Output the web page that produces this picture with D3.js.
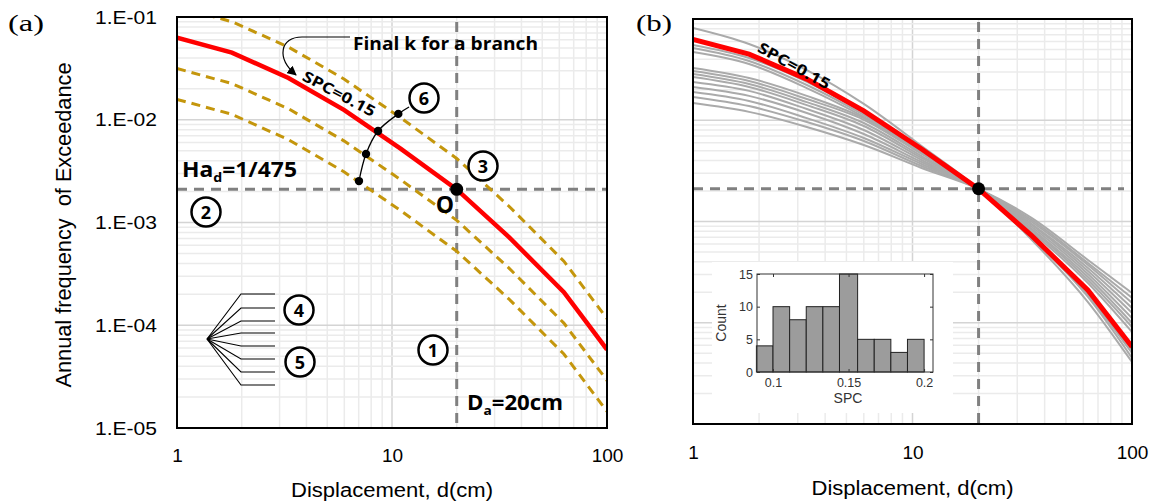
<!DOCTYPE html>
<html>
<head>
<meta charset="utf-8">
<script src="https://cdn.jsdelivr.net/npm/d3@7"></script>
<style>
  body { margin: 0; background: #fff; }
  svg { display: block; }
</style>
</head>
<body>
<svg id="chart" width="1155" height="504"></svg>
<script>
// displacement grid of the hazard curves (cm)
const dispCm = [1, 1.8, 3.3, 6, 11, 20, 35, 63, 100];
// selected curve, SPC = 0.15
const spc015 = [6.3e-2, 4.5e-2, 2.55e-2, 1.24e-2, 5.2e-3, 2.1e-3, 7.2e-4, 2.1e-4, 5.8e-5];
// trial k curves of panel (a)
const kUpper = [0.126, 0.09, 0.051, 0.0248, 0.0104, 0.0042, 0.00144, 0.00042, 0.000116];
const kMid = [0.0315, 0.0225, 0.0128, 0.0062, 0.0026, 0.00105, 0.00036, 0.000105, 0.000029];
const kLow = [0.0158, 0.0113, 0.0064, 0.0031, 0.0013, 0.000525, 0.00018, 0.0000525, 0.0000145];
// iteration path for k
const kPathD = [7.02, 7.57, 8.61, 10.7, 12.0];
const kPathF = [2.53e-3, 4.65e-3, 7.77e-3, 1.14e-2, 1.33e-2];
// branch curves of panel (b)
const branchCurves = [
  [8.15e-2, 5.66e-2, 3.13e-2, 1.45e-2, 5.57e-3, 2.1e-3, 6.57e-4, 1.60e-4, 4.09e-5],
  [5.54e-2, 4.12e-2, 2.39e-2, 1.18e-2, 5.08e-3, 2.1e-3, 6.87e-4, 1.80e-4, 4.49e-5],
  [5.17e-2, 3.85e-2, 2.23e-2, 1.13e-2, 4.97e-3, 2.1e-3, 7.03e-4, 1.88e-4, 5.02e-5],
  [4.72e-2, 3.59e-2, 2.08e-2, 1.08e-2, 4.86e-3, 2.1e-3, 7.19e-4, 1.97e-4, 5.38e-5],
  [3.28e-2, 2.61e-2, 1.74e-2, 1.05e-2, 4.75e-3, 2.1e-3, 7.87e-4, 2.47e-4, 8.10e-5],
  [3.06e-2, 2.44e-2, 1.62e-2, 1.01e-2, 4.64e-3, 2.1e-3, 8.24e-4, 2.64e-4, 9.08e-5],
  [2.86e-2, 2.28e-2, 1.51e-2, 9.39e-3, 4.43e-3, 2.1e-3, 8.43e-4, 2.83e-4, 9.94e-5],
  [2.67e-2, 2.13e-2, 1.41e-2, 8.77e-3, 4.24e-3, 2.1e-3, 8.82e-4, 3.03e-4, 1.11e-4],
  [2.39e-2, 1.95e-2, 1.29e-2, 8.01e-3, 4.05e-3, 2.1e-3, 9.23e-4, 3.24e-4, 1.25e-4],
  [2.13e-2, 1.74e-2, 1.18e-2, 7.31e-3, 3.87e-3, 2.1e-3, 9.45e-4, 3.47e-4, 1.40e-4],
  [1.90e-2, 1.55e-2, 1.05e-2, 6.68e-3, 3.70e-3, 2.1e-3, 9.89e-4, 3.72e-4, 1.57e-4],
  [1.70e-2, 1.38e-2, 9.61e-3, 6.24e-3, 3.53e-3, 2.1e-3, 1.03e-3, 3.89e-4, 1.76e-4],
  [1.48e-2, 1.21e-2, 8.58e-3, 5.69e-3, 3.38e-3, 2.1e-3, 1.08e-3, 4.17e-4, 1.97e-4]
];
const targetD = 20;
const targetHa = 1 / 475;
// SPC histogram (inset)
const spcBins = [0.089, 0.100, 0.111, 0.122, 0.133, 0.144, 0.156, 0.167, 0.178, 0.189, 0.200];
const spcCounts = [4, 10, 8, 10, 10, 15, 5, 5, 3, 5];
const countTicks = [0, 5, 10, 15];
const spcTicks = [0.1, 0.15, 0.2];
const yTicks = [1e-1, 1e-2, 1e-3, 1e-4, 1e-5];
const yTickLabels = ['1.E-01', '1.E-02', '1.E-03', '1.E-04', '1.E-05'];
const xTicks = [1, 10, 100];

const svg = d3.select('#chart');
const SANS = 'Liberation Sans, Arial, sans-serif';
const BOLD = 'Open Sans, Noto Sans, sans-serif';

svg.append('defs').append('marker')
  .attr('id', 'arr').attr('viewBox', '0 0 10 10').attr('refX', 9).attr('refY', 5)
  .attr('markerWidth', 8).attr('markerHeight', 8).attr('orient', 'auto')
  .append('path').attr('d', 'M0,0L10,5L0,10z').attr('fill', '#000');

function txt(g, x, y, s, o) {
  const t = g.append('text').attr('x', x).attr('y', y).text(s)
    .attr('font-family', o.family || SANS)
    .attr('font-size', o.size)
    .attr('font-weight', o.weight || 'normal')
    .attr('text-anchor', o.anchor || 'middle')
    .attr('fill', o.fill || '#000');
  if (o.w) t.attr('textLength', o.w).attr('lengthAdjust', 'spacingAndGlyphs');
  return t;
}

function panel(id, box) {
  const x = d3.scaleLog().domain([1, 100]).range([box.l, box.r]);
  const y = d3.scaleLog().domain([1e-5, 1e-1]).range([box.b, box.t]);
  const g = svg.append('g');
  g.append('clipPath').attr('id', 'clip' + id).append('rect')
    .attr('x', box.l).attr('y', box.t).attr('width', box.r - box.l).attr('height', box.b - box.t);

  const isMajor = v => Math.abs(Math.log10(v) - Math.round(Math.log10(v))) < 1e-6;
  const grid = g.append('g').attr('stroke-width', 1.5);
  x.ticks().forEach(v => {
    grid.append('line').attr('x1', x(v)).attr('x2', x(v)).attr('y1', box.t).attr('y2', box.b)
      .attr('stroke', isMajor(v) ? '#d4d4d4' : '#ebebeb');
  });
  y.ticks().forEach(v => {
    grid.append('line').attr('y1', y(v)).attr('y2', y(v)).attr('x1', box.l).attr('x2', box.r)
      .attr('stroke', isMajor(v) ? '#d4d4d4' : '#ebebeb');
  });

  const plot = g.append('g').attr('clip-path', `url(#clip${id})`);
  const line = d3.line().x((d, i) => x(dispCm[i])).y(d => y(d));

  // axis labels along x
  const ax = g.append('g').attr('transform', `translate(0,${box.b})`)
    .call(d3.axisBottom(x).tickValues(xTicks).tickFormat(d3.format('d')).tickSize(0).tickPadding(box.pad));
  ax.select('.domain').remove();
  ax.selectAll('text').attr('font-size', 19).attr('font-family', SANS).attr('fill', '#000');
  txt(g, (box.l + box.r) / 2, box.titleY, 'Displacement, d(cm)', { size: 20, w: 202 });

  return { g, plot, x, y, line, box };
}

// ---------- panel (a) ----------
const A = panel('a', { l: 177, r: 607, t: 17, b: 428, pad: 21, titleY: 497 });
{
  const { g, plot, x, y, line, box } = A;
  const ay = g.append('g').attr('transform', `translate(${box.l},0)`)
    .call(d3.axisLeft(y).tickValues(yTicks).tickFormat((d, i) => yTickLabels[i]).tickSize(0).tickPadding(20));
  ay.select('.domain').remove();
  ay.selectAll('text').attr('font-size', 19).attr('font-family', SANS).attr('fill', '#000')
    .attr('textLength', 62).attr('lengthAdjust', 'spacingAndGlyphs');

  txt(g, 0, 0, 'Annual frequency  of Exceedance', { size: 22, w: 325 })
    .attr('transform', 'translate(71,225) rotate(-90)').style('white-space', 'pre');

  // reference lines
  const ref = plot.append('g').attr('stroke', '#808080').attr('stroke-width', 3).attr('stroke-dasharray', '10,7');
  ref.append('line').attr('x1', box.l).attr('x2', box.r).attr('y1', y(targetHa)).attr('y2', y(targetHa));
  ref.append('line').attr('x1', x(targetD)).attr('x2', x(targetD)).attr('y1', box.t + 5).attr('y2', box.b);

  [kUpper, kMid, kLow].forEach(s => {
    plot.append('path').attr('d', line(s)).attr('fill', 'none')
      .attr('stroke', '#c4960c').attr('stroke-width', 3).attr('stroke-dasharray', '9,6');
  });
  plot.append('path').attr('d', line(spc015)).attr('fill', 'none')
    .attr('stroke', '#ff0000').attr('stroke-width', 4.5);

  // k iteration path
  const kLine = d3.line().curve(d3.curveCatmullRom).x((d, i) => x(kPathD[i])).y(d => y(d));
  g.append('path').attr('d', kLine(kPathF)).attr('fill', 'none').attr('stroke', '#000').attr('stroke-width', 1.3);
  kPathF.slice(0, 4).forEach((f, i) => {
    g.append('circle').attr('cx', x(kPathD[i])).attr('cy', y(f)).attr('r', 4.2).attr('fill', '#000');
  });
  g.append('circle').attr('cx', x(targetD)).attr('cy', y(targetHa)).attr('r', 6.5).attr('fill', '#000');

  // annotations
  txt(g, 353, 50, 'Final k for a branch', { size: 18, weight: 700, family: BOLD, anchor: 'start', w: 185 });
  g.append('path').attr('d', 'M350,37 L302,37 C280,37 276,58 296,75')
    .attr('fill', 'none').attr('stroke', '#000').attr('stroke-width', 1.2).attr('marker-end', 'url(#arr)');
  txt(g, 0, 5, 'SPC=0.15', { size: 15, weight: 700, family: BOLD, w: 80 })
    .attr('transform', 'translate(339,94) rotate(28)');

  const ha = txt(g, 182, 177, '', { size: 21, weight: 700, family: BOLD, anchor: 'start', w: 115 });
  ha.append('tspan').text('Ha');
  ha.append('tspan').text('d').attr('font-size', 13).attr('dy', 5);
  ha.append('tspan').text('=1/475').attr('dy', -5);

  const da = txt(g, 467, 410, '', { size: 21, weight: 700, family: BOLD, anchor: 'start', w: 96 });
  da.append('tspan').text('D');
  da.append('tspan').text('a').attr('font-size', 13).attr('dy', 5);
  da.append('tspan').text('=20cm').attr('dy', -5);

  txt(g, 445, 213, 'O', { size: 23, weight: 700, family: BOLD });

  [['1', 433, 350], ['2', 206, 212], ['3', 483, 166], ['4', 299, 310], ['5', 300, 362], ['6', 424, 98]]
    .forEach(([n, cx, cy]) => {
      g.append('circle').attr('cx', cx).attr('cy', cy).attr('r', 14.5)
        .attr('fill', '#fff').attr('stroke', '#000').attr('stroke-width', 2.5);
      txt(g, cx, cy + 6.5, n, { size: 18, weight: 700, family: BOLD });
    });

  // branching sketch
  const tree = g.append('g').attr('stroke', '#000').attr('stroke-width', 1.1).attr('fill', 'none');
  [294, 308, 321, 333, 346, 359, 372, 385].forEach(by => {
    tree.append('polyline').attr('points', `207,339 241,${by} 275,${by}`);
  });

  g.append('rect').attr('x', box.l).attr('y', box.t).attr('width', box.r - box.l).attr('height', box.b - box.t)
    .attr('fill', 'none').attr('stroke', '#000').attr('stroke-width', 2);
  txt(svg, 8, 31, '(a)', { size: 24, family: 'Liberation Serif, Times New Roman, serif', anchor: 'start', w: 36 });
}

// ---------- panel (b) ----------
const B = panel('b', { l: 693, r: 1132, t: 19, b: 424, pad: 22, titleY: 495 });
{
  const { g, plot, x, y, line, box } = B;

  const ref = plot.append('g').attr('stroke', '#808080').attr('stroke-width', 3).attr('stroke-dasharray', '10,7');
  ref.append('line').attr('x1', box.l).attr('x2', box.r - 8).attr('y1', y(targetHa)).attr('y2', y(targetHa));
  ref.append('line').attr('x1', x(targetD)).attr('x2', x(targetD)).attr('y1', box.t + 3).attr('y2', box.b);

  const smooth = d3.line().curve(d3.curveMonotoneX).x((d, i) => x(dispCm[i])).y(d => y(d));
  branchCurves.forEach(s => {
    plot.append('path').attr('d', smooth(s)).attr('fill', 'none')
      .attr('stroke', '#aaaaaa').attr('stroke-width', 2);
  });
  plot.append('path').attr('d', line(spc015)).attr('fill', 'none')
    .attr('stroke', '#ff0000').attr('stroke-width', 5);
  g.append('circle').attr('cx', x(targetD)).attr('cy', y(targetHa)).attr('r', 6.5).attr('fill', '#000');

  txt(g, 0, 5, 'SPC=0.15', { size: 15, weight: 700, family: BOLD, w: 80 })
    .attr('transform', 'translate(794,66) rotate(29)');

  // inset histogram
  const ins = g.append('g');
  ins.append('rect').attr('x', 712).attr('y', 262).attr('width', 241).attr('height', 151).attr('fill', '#fff');
  const xi = d3.scaleLinear().domain([0.0894, 0.2059]).range([757, 933]);
  const yi = d3.scaleLinear().domain([0, 15]).range([372, 274]);
  spcCounts.forEach((c, i) => {
    ins.append('rect').attr('x', xi(spcBins[i])).attr('y', yi(c))
      .attr('width', xi(spcBins[i + 1]) - xi(spcBins[i])).attr('height', yi(0) - yi(c))
      .attr('fill', '#9c9c9c').attr('stroke', '#222').attr('stroke-width', 1);
  });
  const iax = ins.append('g').attr('transform', 'translate(0,372)')
    .call(d3.axisBottom(xi).tickValues(spcTicks).tickFormat(d3.format('')).tickSize(-3).tickPadding(6));
  const iay = ins.append('g').attr('transform', 'translate(757,0)')
    .call(d3.axisLeft(yi).tickValues(countTicks).tickSize(-3).tickPadding(4));
  ins.append('g').attr('transform', 'translate(0,274)')
    .call(d3.axisTop(xi).tickValues(spcTicks).tickFormat('').tickSize(-3)).select('.domain').remove();
  ins.append('g').attr('transform', 'translate(933,0)')
    .call(d3.axisRight(yi).tickValues(countTicks).tickFormat('').tickSize(-3)).select('.domain').remove();
  [iax, iay].forEach(a => {
    a.select('.domain').remove();
    a.selectAll('text').attr('font-size', 12.5).attr('font-family', SANS).attr('fill', '#333');
  });
  ins.selectAll('.tick line').attr('stroke', '#333');
  ins.append('rect').attr('x', 757).attr('y', 274).attr('width', 176).attr('height', 98)
    .attr('fill', 'none').attr('stroke', '#333').attr('stroke-width', 1);
  txt(ins, 848, 403, 'SPC', { size: 14, fill: '#333' });
  txt(ins, 0, 0, 'Count', { size: 14, fill: '#333' }).attr('transform', 'translate(726,323) rotate(-90)');

  g.append('rect').attr('x', box.l).attr('y', box.t).attr('width', box.r - box.l).attr('height', box.b - box.t)
    .attr('fill', 'none').attr('stroke', '#000').attr('stroke-width', 2);
  txt(svg, 636, 31, '(b)', { size: 24, family: 'Liberation Serif, Times New Roman, serif', anchor: 'start', w: 36 });
}
</script>
</body>
</html>
